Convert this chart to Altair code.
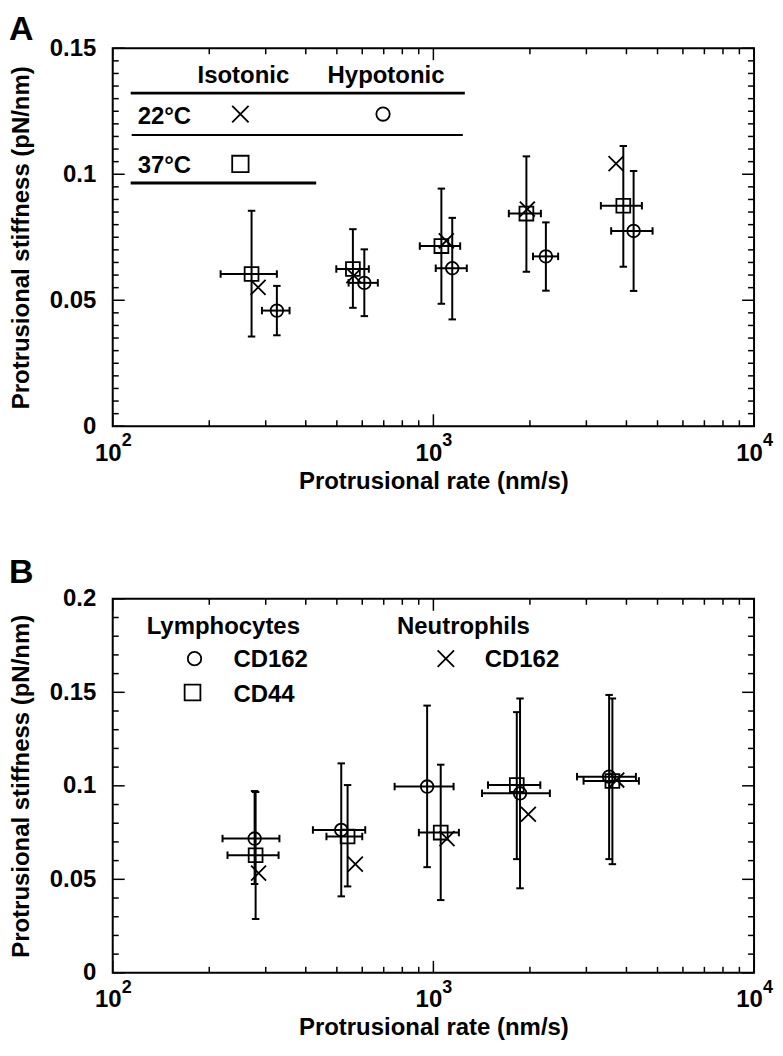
import altair as alt
import pandas as pd
import numpy as np

FONT = "Liberation Sans"
W = 643
HA = 379
HB = 375

# ---------------- Panel A data ----------------
# 37°C isotonic (square)
a_sq_x = [271, 561, 1059, 1950, 3911]
a_sq_y = [0.0604, 0.0624, 0.0715, 0.0844, 0.0875]
a_sq_xlo = [217, 498, 907, 1719, 3329]
a_sq_xhi = [325, 629, 1212, 2164, 4469]
a_sq_ylo = [0.0356, 0.0470, 0.0486, 0.0613, 0.0633]
a_sq_yhi = [0.0855, 0.0782, 0.0943, 0.1071, 0.1112]
# 22°C isotonic (cross)
a_x_x = [284, 565, 1097, 1963, 3712]
a_x_y = [0.0551, 0.0598, 0.0736, 0.0862, 0.1042]
# 22°C hypotonic (circle)
a_ci_x = [325, 609, 1145, 2243, 4211]
a_ci_y = [0.0459, 0.0569, 0.0627, 0.0674, 0.0775]
a_ci_xlo = [292, 544, 1017, 2045, 3584]
a_ci_xhi = [356, 671, 1271, 2449, 4825]
a_ci_ylo = [0.0361, 0.0437, 0.0424, 0.0538, 0.0537]
a_ci_yhi = [0.0557, 0.0702, 0.0827, 0.0809, 0.1013]

# ---------------- Panel B data ----------------
# Lymphocytes CD162 (circle)
b_ci_x = [277, 516, 956, 1863, 3532]
b_ci_y = [0.0718, 0.0764, 0.0996, 0.0960, 0.1049]
b_ci_xlo = [220, 421, 757, 1418, 2805]
b_ci_xhi = [331, 613, 1156, 2308, 4281]
b_ci_ylo = [0.0475, 0.0409, 0.0565, 0.0452, 0.0608]
b_ci_yhi = [0.0972, 0.1120, 0.1429, 0.1467, 0.1486]
# Lymphocytes CD44 (square)
b_sq_x = [279, 540, 1054, 1820, 3616]
b_sq_y = [0.0629, 0.0729, 0.0750, 0.1004, 0.1026]
b_sq_xlo = [228, 464, 901, 1480, 2940]
b_sq_xhi = [329, 600, 1201, 2155, 4374]
b_sq_ylo = [0.0288, 0.0462, 0.0389, 0.0608, 0.0581]
b_sq_yhi = [0.0967, 0.1004, 0.1113, 0.1394, 0.1467]
# Neutrophils CD162 (cross)
b_x_x = [285, 571, 1103, 1978, 3731]
b_x_y = [0.0533, 0.0581, 0.0718, 0.0848, 0.1031]

x_major = [100, 1000, 10000]
x_exp = ["2", "3", "4"]
x_minor = [200, 300, 400, 500, 600, 700, 800, 900,
           2000, 3000, 4000, 5000, 6000, 7000, 8000, 9000]

X_PATH = "M-1,-1L1,1M-1,1L1,-1"
HCAP = "M-1,0L1,0"
VCAP = "M0,-1L0,1"
XTITLE = "Protrusional rate (nm/s)"
YTITLE = "Protrusional stiffness (pN/nm)"


def frame(shape, x, y, xlo=None, xhi=None, ylo=None, yhi=None):
    n = len(x)
    nan = [np.nan] * n
    return pd.DataFrame({
        "shape": [shape] * n, "x": x, "y": y,
        "xlo": xlo if xlo else nan, "xhi": xhi if xhi else nan,
        "ylo": ylo if ylo else nan, "yhi": yhi if yhi else nan,
    })


dfA = pd.concat([
    frame("square", a_sq_x, a_sq_y, a_sq_xlo, a_sq_xhi, a_sq_ylo, a_sq_yhi),
    frame("cross", a_x_x, a_x_y),
    frame("circle", a_ci_x, a_ci_y, a_ci_xlo, a_ci_xhi, a_ci_ylo, a_ci_yhi),
], ignore_index=True)

dfB = pd.concat([
    frame("circle", b_ci_x, b_ci_y, b_ci_xlo, b_ci_xhi, b_ci_ylo, b_ci_yhi),
    frame("square", b_sq_x, b_sq_y, b_sq_xlo, b_sq_xhi, b_sq_ylo, b_sq_yhi),
    frame("cross", b_x_x, b_x_y),
], ignore_index=True)

one = pd.DataFrame({"k": [0]})


def text(t, x, y, align="left", size=24, baseline="middle"):
    return alt.Chart(one).mark_text(text=t, align=align, baseline=baseline,
                                    font=FONT, fontWeight="bold", fontSize=size,
                                    color="black").encode(x=alt.value(x), y=alt.value(y))


def hline(x1, x2, y, w):
    return alt.Chart(one).mark_rule(color="black", strokeWidth=w).encode(
        x=alt.value(x1), x2=alt.value(x2), y=alt.value(y))


def sym(shape, x, y, size):
    return alt.Chart(one).mark_point(shape=shape, size=size, filled=False,
                                     color="black", strokeWidth=1.8, opacity=1).encode(
        x=alt.value(x), y=alt.value(y))


def panel(df, ymax, ystep, yvals, H, extra, letter, letter_y):
    xs = alt.Scale(type="log", domain=[100, 10000], nice=False)
    ys = alt.Scale(domain=[0, ymax], nice=False, zero=False)
    xaxis = alt.Axis(values=x_major, labelExpr="'10'", labelOffset=-5,
                     labelPadding=15, labelFlush=False, labelOverlap=False,
                     titlePadding=4)
    yaxis = alt.Axis(values=yvals, labelExpr="format(datum.value, '.2~f')",
                     labelPadding=17, labelFlush=False, labelOverlap=False,
                     titlePadding=16)

    def X(f):
        return alt.X(f, scale=xs, axis=xaxis, title=XTITLE)

    def Y(f):
        return alt.Y(f, scale=ys, axis=yaxis, title=YTITLE)

    nt = int(round(ymax / ystep))
    yt = pd.DataFrame({"v": [round(i * ystep, 4) for i in range(nt + 1)]})
    yt["major"] = [abs(v / 0.05 - round(v / 0.05)) < 1e-6 for v in yt["v"]]
    xt = pd.DataFrame({"v": x_major + x_minor,
                       "major": [True] * len(x_major) + [False] * len(x_minor)})

    base = alt.Chart(df)
    layers = []
    # markers (first, carries axes)
    layers.append(base.mark_point(filled=False, color="black", strokeWidth=1.8, opacity=1).encode(
        x=X("x:Q"), y=Y("y:Q"),
        shape=alt.Shape("shape:N", legend=None,
                        scale=alt.Scale(domain=["circle", "square", "cross"],
                                        range=["circle", "square", X_PATH])),
        size=alt.Size("shape:N", legend=None,
                      scale=alt.Scale(domain=["circle", "square", "cross"],
                                      range=[160, 225, 240])),
    ))

    # inward ticks
    for major, ln in [(True, 12), (False, 6)]:
        sub_y = yt[yt["major"] == major]
        sub_x = xt[xt["major"] == major]
        cy = alt.Chart(sub_y).mark_rule(color="black", strokeWidth=1.5)
        layers.append(cy.encode(y=Y("v:Q"), x=alt.value(0), x2=alt.value(ln)))
        layers.append(cy.encode(y=Y("v:Q"), x=alt.value(W), x2=alt.value(W - ln)))
        cx = alt.Chart(sub_x).mark_rule(color="black", strokeWidth=1.5)
        layers.append(cx.encode(x=X("v:Q"), y=alt.value(H), y2=alt.value(H - ln)))
        layers.append(cx.encode(x=X("v:Q"), y=alt.value(0), y2=alt.value(ln)))

    # exponents of x tick labels
    layers.append(alt.Chart(pd.DataFrame({"v": x_major, "e": x_exp})).mark_text(
        align="left", baseline="middle", dx=9, font=FONT, fontWeight="bold",
        fontSize=18, color="black").encode(
        x=X("v:Q"), y=alt.value(H + 15), text="e:N"))

    # vertical error bars
    vb = base.transform_filter("isValid(datum.ylo)")
    layers.append(vb.mark_rule(color="black", strokeWidth=2).encode(
        x=X("x:Q"), y=Y("ylo:Q"), y2="yhi:Q"))
    for f in ["ylo", "yhi"]:
        layers.append(vb.mark_point(shape=HCAP, size=56, filled=False, color="black",
                                    strokeWidth=2, opacity=1).encode(
            x=X("x:Q"), y=Y(f + ":Q")))
    # horizontal error bars
    hb = base.transform_filter("isValid(datum.xlo)")
    layers.append(hb.mark_rule(color="black", strokeWidth=2).encode(
        x=X("xlo:Q"), x2="xhi:Q", y=Y("y:Q")))
    for f in ["xlo", "xhi"]:
        layers.append(hb.mark_point(shape=VCAP, size=56, filled=False, color="black",
                                    strokeWidth=2, opacity=1).encode(
            x=X(f + ":Q"), y=Y("y:Q")))

    layers.extend(extra)
    layers.append(text(letter, -104, letter_y, size=34, baseline="alphabetic"))
    return alt.layer(*layers).properties(width=W, height=H)


legendA = [
    text("Isotonic", 131, 28, align="center"),
    text("Hypotonic", 274, 28, align="center"),
    hline(18, 353, 45, 3),
    text("22°C", 25, 69),
    sym(X_PATH, 128, 66, 270),
    sym("circle", 271, 66, 180),
    hline(19, 351, 87, 2),
    text("37°C", 25, 118),
    sym("square", 128, 116, 270),
    hline(18, 204, 135, 3),
]

legendB = [
    text("Lymphocytes", 34, 28),
    text("Neutrophils", 285, 28),
    sym("circle", 82, 60, 180),
    text("CD162", 121, 61),
    sym(X_PATH, 334, 60, 270),
    text("CD162", 373, 61),
    sym("square", 80, 94, 250),
    text("CD44", 121, 96),
]

chartA = panel(dfA, 0.15, 0.005, [0, 0.05, 0.1, 0.15], HA, legendA, "A", -8)
chartB = panel(dfB, 0.2, 0.01, [0, 0.05, 0.1, 0.15, 0.2], HB, legendB, "B", -16)

chart = alt.vconcat(chartA, chartB, spacing=61).properties(
    padding={"top": 3, "left": 0, "right": 0, "bottom": 0}
).configure_view(stroke="black", strokeWidth=2).configure_axis(
    domain=False, ticks=False, grid=False,
    labelFont=FONT, labelFontWeight="bold", labelFontSize=24, labelColor="black",
    titleFont=FONT, titleFontWeight="bold", titleFontSize=24, titleColor="black",
)

chart.save("out.html", embed_options={"renderer": "svg", "actions": False})
